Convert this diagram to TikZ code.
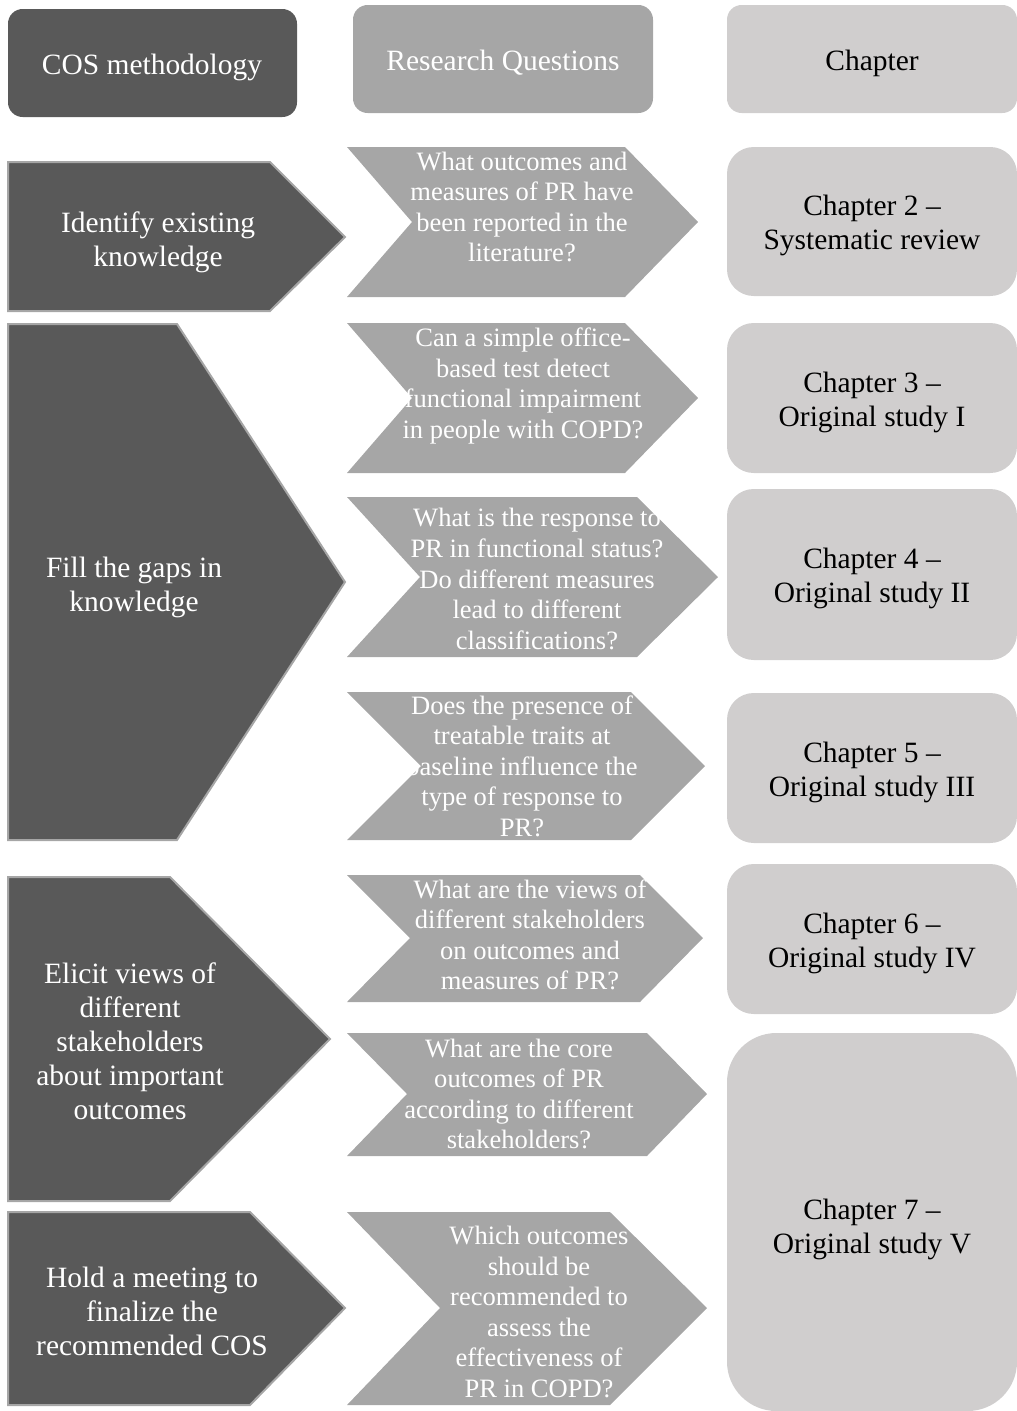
\documentclass[tikz,border=0pt]{standalone}
\usepackage{fontspec}
\setmainfont{Liberation Serif}
\definecolor{dk}{HTML}{595959}
\definecolor{md}{HTML}{A6A6A6}
\definecolor{lt}{HTML}{D0CECE}
\begin{document}
\begin{tikzpicture}[x=0.75pt,y=-0.75pt,
  dkshape/.style={fill=dk, draw=md, line width=1.5pt, line join=miter},
  mdshape/.style={fill=md},
  ltbox/.style={fill=lt, rounded corners=20pt},
  bigtxt/.style={font=\fontsize{22.1}{25.5}\selectfont, align=center, inner sep=0pt},
  smalltxt/.style={font=\fontsize{19.9}{22.9}\selectfont, align=center, inner sep=0pt, text=white},
]
\useasboundingbox (0,0) rectangle (1017,1411);
% header
\fill[dk, rounded corners=11pt] (8,9) rectangle (297,117);
\fill[md, rounded corners=11pt] (353,5) rectangle (653,113);
\fill[lt, rounded corners=11pt] (727,5) rectangle (1017,113);
\node[bigtxt, text=white] (h1) at (152,67) {COS methodology};
\node[bigtxt, text=white] (h2) at (503,63) {Research Questions};
\node[bigtxt, text=black] (h3) at (872,63) {Chapter};
% left pentagons
\draw[dkshape] (8,162) -- (270,162) -- (345,237) -- (270,311) -- (8,311) -- cycle;
\draw[dkshape] (8,324) -- (177,324) -- (345,582) -- (177,840) -- (8,840) -- cycle;
\draw[dkshape] (8,877) -- (170,877) -- (330,1039) -- (170,1201) -- (8,1201) -- cycle;
\draw[dkshape] (8,1212) -- (250,1212) -- (345,1308) -- (250,1405) -- (8,1405) -- cycle;
\node[bigtxt, text=white] (p1) at (158,242) {Identify existing\\knowledge};
\node[bigtxt, text=white] (p2) at (134,587) {Fill the gaps in\\knowledge};
\node[bigtxt, text=white] (p3) at (130,1041) {Elicit views of\\different\\stakeholders\\about important\\outcomes};
\node[bigtxt, text=white] (p4) at (152,1311) {Hold a meeting to\\finalize the\\recommended COS};
% middle chevrons
\fill[mdshape] (347,147) -- (625,147) -- (698,222) -- (625,297) -- (347,297) -- (412,222) -- cycle;
\fill[mdshape] (347,323) -- (625,323) -- (698,398) -- (625,473) -- (347,473) -- (412,398) -- cycle;
\fill[mdshape] (347,497) -- (637,497) -- (718,577) -- (637,657) -- (347,657) -- (420,577) -- cycle;
\fill[mdshape] (347,692) -- (631,692) -- (705,766) -- (631,840) -- (347,840) -- (421,766) -- cycle;
\fill[mdshape] (347,875) -- (640,875) -- (703,938) -- (640,1002) -- (347,1002) -- (410,938) -- cycle;
\fill[mdshape] (347,1033) -- (647,1033) -- (707,1094) -- (647,1156) -- (347,1156) -- (407,1094) -- cycle;
\fill[mdshape] (347,1212) -- (610,1212) -- (707,1308) -- (610,1405) -- (347,1405) -- (440,1308) -- cycle;
\node[smalltxt] (q1) at (522,207) {What outcomes and\\measures of PR have\\been reported in the\\literature?};
\node[smalltxt] (q2) at (523,386) {Can a simple office-\\based test detect\\functional impairment\\in people with COPD?};
\node[smalltxt] (q3) at (537,579) {What is the response to\\PR in functional status?\\Do different measures\\lead to different\\classifications?};
\node[smalltxt] (q4) at (522,766) {Does the presence of\\treatable traits at\\baseline influence the\\type of response to\\PR?};
\node[smalltxt] (q5) at (530,935) {What are the views of\\different stakeholders\\on outcomes and\\measures of PR?};
\node[smalltxt] (q6) at (519,1094) {What are the core\\outcomes of PR\\according to different\\stakeholders?};
\node[smalltxt] (q7) at (539,1312) {Which outcomes\\should be\\recommended to\\assess the\\effectiveness of\\PR in COPD?};
% right boxes
\fill[ltbox] (727,147) rectangle (1017,296);
\fill[ltbox] (727,323) rectangle (1017,473);
\fill[ltbox] (727,489) rectangle (1017,660);
\fill[ltbox] (727,693) rectangle (1017,843);
\fill[ltbox] (727,864) rectangle (1017,1014);
\fill[ltbox, rounded corners=37pt] (727,1033) rectangle (1017,1411);
\node[bigtxt] (c2) at (872,225) {Chapter 2 --\\Systematic review};
\node[bigtxt] (c3) at (872,402) {Chapter 3 --\\Original study I};
\node[bigtxt] (c4) at (872,578) {Chapter 4 --\\Original study II};
\node[bigtxt] (c5) at (872,772) {Chapter 5 --\\Original study III};
\node[bigtxt] (c6) at (872,943) {Chapter 6 --\\Original study IV};
\node[bigtxt] (c7) at (872,1229) {Chapter 7 --\\Original study V};
\end{tikzpicture}
\end{document}
